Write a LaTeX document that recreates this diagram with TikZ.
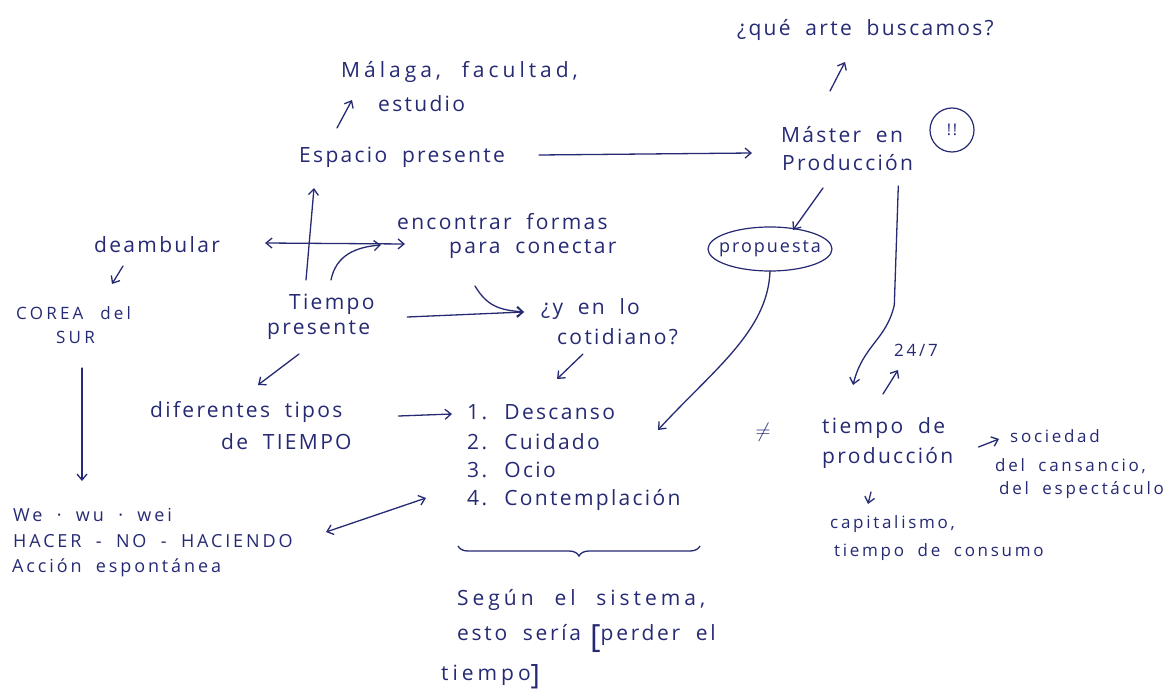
\documentclass[tikz,border=0pt]{standalone}
\usepackage{fontspec}
\setmainfont{Open Sans}[LetterSpace=11,WordSpace=1.9]
\newfontfamily\wideA{Open Sans}[LetterSpace=16,WordSpace=1.9]
\newfontfamily\wideB{Open Sans}[LetterSpace=19,WordSpace=2.2]
\newfontfamily\wideC{Open Sans}[LetterSpace=13,WordSpace=1.9]
\usetikzlibrary{arrows.meta,calc,shapes.geometric,decorations.pathreplacing}
\definecolor{ink}{RGB}{38,42,115}
\begin{document}
\begin{tikzpicture}[x=1pt,y=-1pt,
  every node/.style={text=ink, inner sep=0pt, anchor=west, font={\fontsize{21}{26}\selectfont}},
  sm/.style={font={\wideA\fontsize{17}{22}\selectfont}},
  wu/.style={font={\wideA\fontsize{18}{22}\selectfont}},
  wd/.style={font={\wideB\fontsize{21}{26}\selectfont}},
  wc/.style={font={\wideC\fontsize{21}{26}\selectfont}},
  cr/.style={font={\wideB\fontsize{17}{22}\selectfont}},
  tip/.tip={Straight Barb[length=6pt,width=10pt]},
  arr/.style={draw=ink, line width=1.3pt, line cap=round, -tip},
  darr/.style={arr, tip-tip},
  ]
\fill[white] (0,0) rectangle (1173,695);
% nodes
\node (q) at (737,30) {¿qué arte buscamos?};
\node[wd] (mal1) at (341,72) {Málaga, facultad,};
\node (mal2) at (378,104) {estudio};
\node (esp) at (299,157) {Espacio presente};
\node (mas1) at (781,135) {Máster en};
\node (mas2) at (782,163) {Producción};
\node[anchor=center, draw=ink, circle, line width=1.2pt, minimum size=44pt, font=\fontsize{16}{20}\selectfont] (ex) at (952,130) {!!};
\node[anchor=center, font=\fontsize{18}{22}\selectfont] (prop) at (770,249) {propuesta};
\draw[draw=ink, line width=1.2pt] (prop.center) ellipse [x radius=62, y radius=22];
\node (enc1) at (397,222) {encontrar formas};
\node (enc2) at (449,249) {para conectar};
\node (dea) at (94,245) {deambular};
\node[cr] (cor1) at (16,313) {COREA del};
\node[cr] (cor2) at (56,337) {SUR};
\node (tie1) at (289,304) {Tiempo};
\node (tie2) at (267,330) {presente};
\node (coti1) at (541,309) {¿y en lo};
\node (coti2) at (557,337) {cotidiano?};
\node (dif1) at (150,412) {diferentes tipos};
\node (dif2) at (221,442) {de TIEMPO};
\node (l1) at (467,412) {1. Descanso};
\node (l2) at (467,442) {2. Cuidado};
\node (l3) at (467,470) {3. Ocio};
\node (l4) at (467,500) {4. Contemplación};
\node[anchor=center] (neq) at (763,432) {$\neq$};
\node (tp1) at (822,428) {tiempo de};
\node (tp2) at (822,458) {producción};
\node[sm] (t247) at (894,350) {24/7};
\node[sm] (soc1) at (1010,436) {sociedad};
\node[sm] (soc2) at (995,466) {del cansancio,};
\node[sm] (soc3) at (999,490) {del espectáculo};
\node[sm] (cap1) at (830,524) {capitalismo,};
\node[sm] (cap2) at (834,552) {tiempo de consumo};
\node[wu] (wu1) at (13,515) {We · wu · wei};
\node[wu] (wu2) at (13,541) {HACER - NO - HACIENDO};
\node[wu] (wu3) at (12,568) {Acción espontánea};
\node[wd] (seg1) at (457,600) {Según el sistema,};
\node[wc] (seg2) at (457,638) {esto sería\hspace{9pt}\raisebox{-7pt}{\fontsize{32}{32}\selectfont[}perder el};
\node[wd] (seg3) at (441,677) {tiempo\raisebox{-4pt}{\fontsize{28}{28}\selectfont]}};
% connectors
\draw[arr] ($(esp.west)+(38,-29)$) -- ($(mal2.west)+(-26,-4)$);
\draw[arr] ($(esp.east)+(34,-2)$) -- ($(mas2.west)+(-30,-10)$);
\draw[arr] ($(mas1.west)+(49,-44)$) -- ($(q.west)+(108,32)$);
\draw[arr] ($(mas2.west)+(41,25)$) -- ($(prop.center)+(23,-19)$);
\draw[arr] ($(mas2.east)+(-15,23)$) -- ++(-4,119) .. controls +(-8,35) and +(10,-40) .. ($(tp1.west)+(31,-43)$);
\draw[arr] ($(prop.center)+(0,22)$) .. controls +(-2,60) and +(55,-60) .. ($(l1.west)+(191,18)$);
\draw[arr] ($(dea.west)+(29,21)$) -- ($(cor1.west)+(96,-29)$);
\draw[darr] ($(dea.east)+(45,-2)$) -- ($(enc2.west)+(-44,-5)$);
\draw[arr] ($(tie1.west)+(17,-24)$) -- ($(esp.west)+(15,31)$);
\draw[arr] ($(tie1.west)+(42,-24)$) .. controls +(5,-25) and +(-25,2) .. ($(enc2.west)+(-68,-4)$);
\draw[arr] ($(tie2.east)+(37,-13)$) -- ($(coti1.west)+(-17,3)$);
\draw[arr] ($(enc2.west)+(26,37)$) .. controls +(12,20) and +(-25,-2) .. ($(coti1.west)+(-17,3)$);
\draw[arr] ($(tie2.west)+(32,24)$) -- ($(dif1.west)+(108,-27)$);
\draw[arr] ($(coti2.west)+(26,17)$) -- ($(l1.west)+(90,-33)$);
\draw[arr] ($(dif1.east)+(56,4)$) -- ($(l1.west)+(-15,2)$);
\draw[arr] ($(tp1.west)+(61,-34)$) -- ($(t247.west)+(4,20)$);
\draw[arr] ($(tp2.east)+(25,-11)$) -- ($(soc1.west)+(-11,3)$);
\draw[arr] ($(tp2.west)+(49,34)$) -- ($(cap1.west)+(38,-20)$);
\draw[arr] ($(cor2.west)+(26,31)$) -- ($(wu1.west)+(69,-34)$);
\draw[darr] ($(wu2.west)+(313,-9)$) -- ($(l4.west)+(-41,-2)$);
\draw[draw=ink, line width=1.3pt, decorate, decoration={brace, mirror, amplitude=10pt}] ($(l4.west)+(-9,46)$) -- ($(l4.west)+(233,46)$);
\end{tikzpicture}
\end{document}
